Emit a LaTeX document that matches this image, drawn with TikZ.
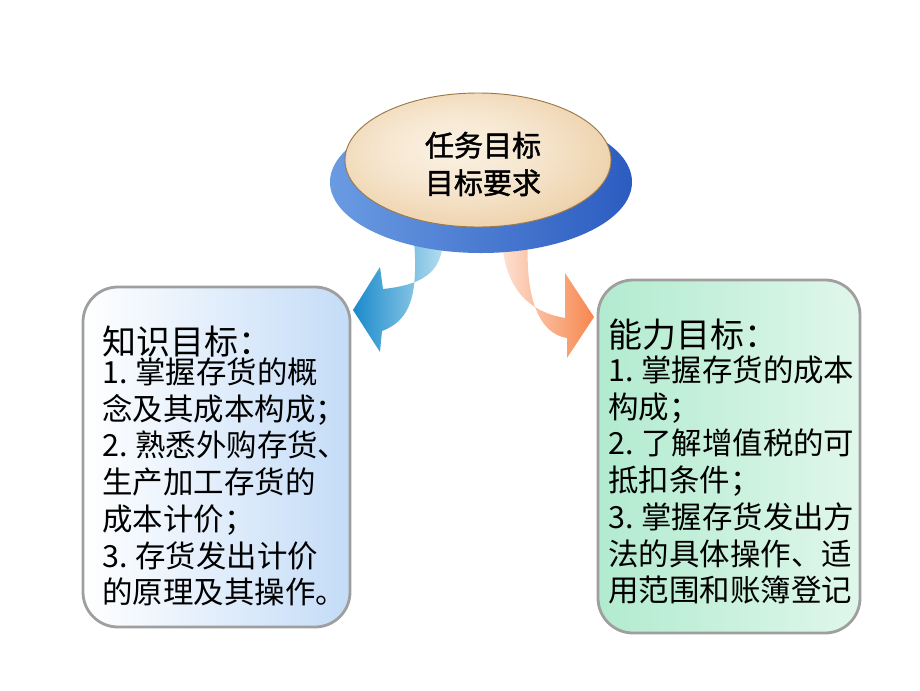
\documentclass[tikz,border=0pt]{standalone}
\usepackage{fontspec}
\setmainfont{Noto Sans CJK SC}
\newfontfamily\platefont[FakeBold=1.5]{Noto Sans CJK SC}
\usetikzlibrary{shapes.geometric}

\definecolor{rimtan}{HTML}{D2A870}
\definecolor{coretan}{HTML}{FBF2E4}
\definecolor{midtan}{HTML}{EFD5B1}
\definecolor{lineband}{HTML}{9C7A48}
\definecolor{baselt}{HTML}{6A9BE2}
\definecolor{basedk}{HTML}{2C5CC0}
\definecolor{arrbluedk}{HTML}{1A8ACB}
\definecolor{arrbluelt}{HTML}{B5DDEF}
\definecolor{arrorglt}{HTML}{FDE1D2}
\definecolor{arrorgdk}{HTML}{F7864D}
\definecolor{knowblue}{HTML}{C4DCF7}
\definecolor{skillgreen}{HTML}{B2EBCF}

\pgfdeclareradialshading{platetan}{\pgfpoint{-5bp}{5bp}}{%
  color(0bp)=(coretan); color(14bp)=(coretan!60!midtan); color(27bp)=(midtan);
  color(38bp)=(rimtan); color(47bp)=(rimtan!85!black); color(60bp)=(rimtan!85!black)}

\begin{document}
\begin{tikzpicture}[x=0.03cm, y=-0.03cm,
    goalbox/.style={draw=gray!75, line width=2.4pt, rounded corners=1.05cm},
    bodytxt/.style={anchor=west, inner sep=0pt, text height=22.8pt, text depth=3.1pt,
      font=\fontsize{26}{30}\selectfont},
    headtxt/.style={anchor=west, inner sep=0pt, text height=25.5pt, text depth=3.5pt,
      font=\fontsize{29}{34}\selectfont}]
  \useasboundingbox (0,0) rectangle (920,690);

  % two boxes
  \node[goalbox, left color=white, right color=knowblue, minimum width=8.01cm, minimum height=10.2cm] (know) at (216.5,457) {};
  \node[goalbox, left color=skillgreen, right color=white!60!skillgreen, minimum width=7.86cm, minimum height=10.59cm] (skill) at (729,456.5) {};

  % block arrows
  \shade[left color=arrbluedk, right color=arrbluelt]
    (443,240) .. controls (442,274) and (420,285) .. (383,289) -- (380,267) -- (353,310)
    -- (380,352) -- (382,331) .. controls (412,320) and (418,292) .. (414,240) -- cycle;
  \shade[left color=arrorglt, right color=arrorgdk]
    (502,240) .. controls (505,290) and (530,312) .. (565,318) -- (565,273) -- (594,317)
    -- (567,358) -- (567,338) .. controls (540,334) and (525,300) .. (528,240) -- cycle;

  % top plate
  \node[ellipse, left color=baselt, right color=basedk, minimum width=9.06cm, minimum height=4.26cm] (base) at (481,182) {};
  \node[ellipse, draw=lineband, line width=0.8pt, shading=platetan, minimum width=7.98cm, minimum height=4.02cm] (plate) at (478,160) {};
  \node[align=center, inner sep=0pt, font=\platefont\fontsize{24.8}{32}\selectfont] (ttl) at (483,164) {任务目标\\目标要求};

  % left text
  \node[headtxt] (kh) at (102,342) {知识目标：};
  \foreach \t [count=\i] in {1.\hspace{0.25em}掌握存货的概, 念及其成本构成；, 2.\hspace{0.25em}熟悉外购存货、, 生产加工存货的, 成本计价；, 3.\hspace{0.25em}存货发出计价, 的原理及其操作。}
    \node[bodytxt] (k\i) at (102,{372+36.7*(\i-1)}) {\t};

  % right text
  \node[headtxt] (sh) at (608,335) {能力目标：};
  \foreach \t [count=\i] in {1.\hspace{0.25em}掌握存货的成本, 构成；, 2.\hspace{0.25em}了解增值税的可, 抵扣条件；, 3.\hspace{0.25em}掌握存货发出方, 法的具体操作、适, 用范围和账簿登记}
    \node[bodytxt] (s\i) at (608,{370+36.7*(\i-1)}) {\t};
\end{tikzpicture}
\end{document}
